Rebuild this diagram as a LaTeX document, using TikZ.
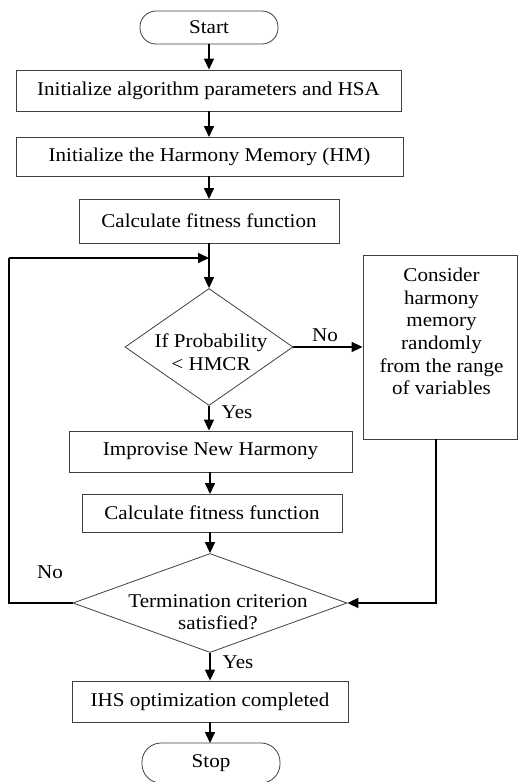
\documentclass[tikz,border=0pt]{standalone}
\usepackage{fontspec}
\setmainfont{Liberation Serif}[FakeStretch=1.08]
\usetikzlibrary{arrows.meta,shapes.geometric}
\begin{document}
\begin{tikzpicture}[x=1pt,y=1pt,
  every node/.style={font=\fontsize{19.5}{22.6}\selectfont},
  procbox/.style={draw=black!75,line width=0.8pt,rectangle,inner sep=0pt},
  termbox/.style={draw=black!75,line width=0.8pt,rectangle,rounded corners=16pt,inner sep=0pt,minimum width=138pt},
  decbox/.style={draw=black!75,line width=0.8pt,diamond,inner sep=0pt},
  flow/.style={line width=1.6pt,-{Triangle[length=11pt,width=10pt]}},
  plain/.style={line width=1.6pt},
  lbl/.style={inner sep=0pt,align=center}]
\useasboundingbox (0,0) rectangle (518,-782);

% terminals and process boxes
\node[termbox,minimum height=33pt] (start) at (209,-27.5) {Start};
\node[procbox,minimum width=385pt,minimum height=41pt] (b1) at (208.5,-90.5) {Initialize algorithm parameters and HSA};
\node[procbox,minimum width=387pt,minimum height=39pt] (b2) at (209.5,-156.5) {Initialize the Harmony Memory (HM)};
\node[procbox,minimum width=260pt,minimum height=44pt] (b3) at (209,-221) {Calculate fitness function};

% first decision
\node[decbox,minimum width=168pt,minimum height=117pt] (d1) at (209,-347) {};
\node[lbl] (d1t) at (211,-352.5) {If Probability\\ \raisebox{0pt}{<} HMCR};

% random choice box
\node[procbox,minimum width=154pt,minimum height=184pt] (r) at (440,-347) {};
\node[lbl] (rt) at (441.5,-331.5) {Consider\\harmony\\memory\\randomly\\from the range\\of variables};

\node[procbox,minimum width=283pt,minimum height=41pt] (b4) at (210.5,-451.5) {Improvise New Harmony};
\node[procbox,minimum width=260pt,minimum height=38pt] (b5) at (212,-513) {Calculate fitness function};

% termination decision
\node[decbox,minimum width=274pt,minimum height=99pt] (d2) at (210,-603) {};
\node[lbl] (d2t) at (218,-612) {Termination criterion\\satisfied?};

\node[procbox,minimum width=276pt,minimum height=41pt] (b6) at (210,-701.5) {IHS optimization completed};
\node[termbox,minimum height=40pt,rounded corners=19pt] (stop) at (211,-763) {Stop};

% branch labels
\node[lbl] (no1) at (325,-335) {No};
\node[lbl] (yes1) at (237,-412) {Yes};
\node[lbl] (no2) at (50,-572) {No};
\node[lbl] (yes2) at (238,-662) {Yes};

% helper points for the loops
\coordinate (join) at (209,-258);
\coordinate (leftc) at (9,-258);
\coordinate (rdown) at (436,-439);

% main flow
\draw[flow] (start.south) -- (start.south |- b1.north);
\draw[flow] (b1.south -| b2.north) ++(-0.5,0) -- (209,-137);
\draw[flow] (b2.south) ++(-0.5,0) -- (209,-199);
\draw[flow] (b3.south) -- (d1.north);
\draw[flow] (d1.south) -- (d1.south |- b4.north);
\draw[flow] (d1.east) -- (r.west |- d1.east);
\draw[flow] (b4.south) ++(-0.5,0) -- (210,-494);
\draw[flow] (b5.south) ++(-2,0) -- (d2.north);
\draw[flow] (d2.south) -- (d2.south |- b6.north);
\draw[flow] (b6.south) -- (210,-743);

% loop back on "No"
\draw[plain] (d2.west) -| (leftc);
\draw[flow] (leftc) -- (join);
% return from the random choice
\draw[flow] (rdown) |- (d2.east);
\end{tikzpicture}
\end{document}
